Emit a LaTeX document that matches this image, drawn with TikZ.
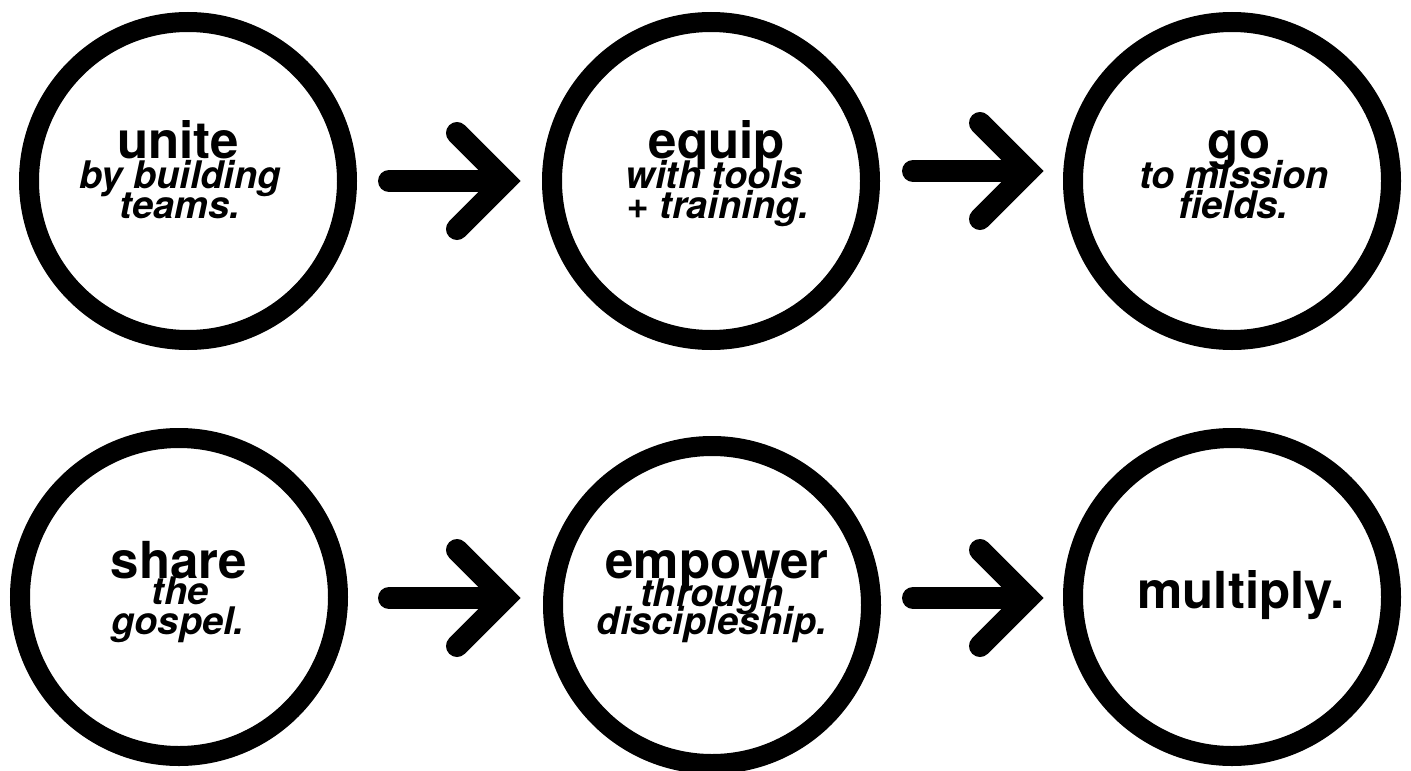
\documentclass[tikz,border=0pt]{standalone}
\usepackage{fontspec}
\setmainfont{TeX Gyre Heros}
\usetikzlibrary{calc}
\tikzset{
  ring/.style={circle, draw=black, line width=20pt, minimum size=318pt, inner sep=0pt, outer sep=0pt},
  mainword/.style={anchor=base, inner sep=0pt, font=\fontsize{51}{51}\selectfont\bfseries},
  subword/.style={anchor=base, inner sep=0pt, font=\fontsize{38}{30}\selectfont\bfseries\itshape},
  arrowline/.style={line width=22pt, line cap=round, line join=miter, draw=black}
}
\begin{document}
\begin{tikzpicture}[x=1pt,y=-1pt]
\path[use as bounding box, fill=white] (0,0) rectangle (1411,771);
% circles
\node[ring] (c1) at (188,181) {};
\node[ring] (c2) at (711,181) {};
\node[ring] (c3) at (1232,181) {};
\node[ring] (c4) at (179,597) {};
\node[ring] (c5) at (712,605) {};
\node[ring] (c6) at (1232,597) {};
% main words
\node[mainword] (m1) at (178,158) {unite};
\node[mainword] (m2) at (717,158) {equip};
\node[mainword] (m3) at (1239,158) {go};
\node[mainword] (m4) at (179,578) {share};
\node[mainword] (m5) at (717,578) {empower};
\node[mainword] (m6) at (1241,608) {multiply.};
% sub lines
\node[subword] (s1a) at (180,188) {by building};
\node[subword] (s1b) at (180,218) {teams.};
\node[subword] (s2a) at (714,188) {with tools};
\node[subword] (s2b) at (718,218) {+ training.};
\node[subword] (s3a) at (1234,188) {to mission};
\node[subword] (s3b) at (1233,218) {fields.};
\node[subword] (s4a) at (180,604) {the};
\node[subword] (s4b) at (178,634) {gospel.};
\node[subword] (s5a) at (712,606) {through};
\node[subword] (s5b) at (712,634) {discipleship.};
% arrows
\coordinate (a1s) at ($(c1.east)+(42,0)$);
\coordinate (a1v) at ($(c2.west)+(-47,0)$);
\coordinate (a2s) at ($(c2.east)+(43,-10)$);
\coordinate (a2v) at ($(c3.west)+(-45,-10)$);
\coordinate (a3s) at ($(c4.east)+(51,1)$);
\coordinate (a3v) at ($(c5.west)+(-48,-7)$);
\coordinate (a4s) at ($(c5.east)+(42,-7)$);
\coordinate (a4v) at ($(c6.west)+(-45,1)$);
\foreach \s/\v in {a1s/a1v,a2s/a2v,a3s/a3v,a4s/a4v}{
  \draw[arrowline] (\s) -- (\v);
  \draw[arrowline] ($(\v)+(-48,-48)$) -- (\v) -- ($(\v)+(-48,48)$);
}
\end{tikzpicture}
\end{document}
